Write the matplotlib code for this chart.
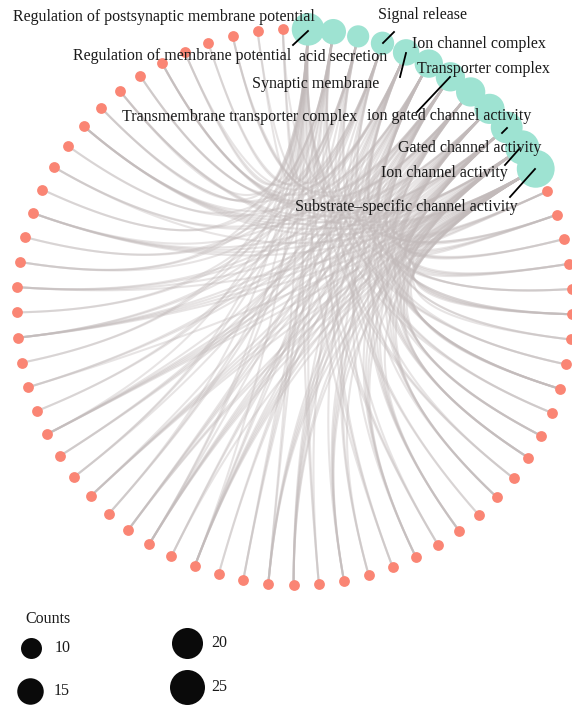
import numpy as np
import matplotlib
matplotlib.use("Agg")
import matplotlib.pyplot as plt
from matplotlib.collections import LineCollection

# ---- data -------------------------------------------------------------
categories = [
    "Regulation of membrane potential",
    "Regulation of postsynaptic membrane potential",
    "acid secretion",
    "Signal release",
    "Synaptic membrane",
    "Ion channel complex",
    "Transporter complex",
    "Transmembrane transporter complex",
    "ion gated channel activity",
    "Gated channel activity",
    "Ion channel activity",
    "Substrate\u2013specific channel activity",
]

# category memberships of each gene (indices into `categories`)
gene_links = [
    [0, 1, 10], [0, 3], [6, 7, 11], [2, 3], [0, 1, 4], [8, 9, 10, 11, 5],
    [6, 7, 4], [0, 10, 11, 9], [2, 3, 0], [5, 8, 9, 10, 11, 7], [4, 1],
    [6, 7, 11], [0, 1], [9, 10, 11, 5, 8], [3, 2], [0, 1, 4],
    [6, 7, 11, 9], [2, 3], [5, 8, 9, 10, 11, 4], [0, 1], [11, 6, 7],
    [3, 2], [0, 10, 11, 9, 8, 6], [7, 6, 5], [4, 0, 1], [8, 9, 10, 11, 5],
    [2, 3, 0], [5, 6, 7, 11, 10], [0, 1, 4, 9, 10, 11, 8], [11, 6, 7],
    [5, 8, 9, 10, 11, 4, 0], [6, 7], [3, 2, 4], [0, 1, 10, 11, 9, 8],
    [5, 6, 7, 8, 10, 11], [1, 0, 4], [8, 9, 10, 11, 5], [6, 7, 10],
    [0, 3, 2], [5, 8, 9, 10, 11], [4, 1, 0], [6, 7, 11, 9, 8], [2, 3],
    [5, 9, 10, 11, 8], [0, 1, 4], [6, 7, 5, 10, 11, 9], [9, 10, 11, 8, 5],
    [3, 0, 2], [5, 6, 7, 8, 9, 10, 11], [0, 1, 4], [11, 7, 6],
    [8, 9, 10, 11, 5, 4], [2, 0, 3], [10, 11, 9, 8], [6, 7, 5],
    [0, 1, 4, 9, 10, 11], [11, 10, 8, 6, 7],
]

legend_counts = [10, 15, 20, 25]

# ---- layout -----------------------------------------------------------
W, H = 572, 710
CX, CY, R = 294.5, 307.0, 278.0
n_cat = len(categories)
n_gene = len(gene_links)
n_all = n_cat + n_gene
step = 2 * np.pi / n_all
start = np.deg2rad(87.2)

# categories clockwise from the top, genes continue counter-clockwise
cat_ang = start - step * np.arange(n_cat)
gene_ang = start + step * (1 + np.arange(n_gene))

cat_xy = np.c_[CX + R * np.cos(cat_ang), CY - R * np.sin(cat_ang)]
gene_xy = np.c_[CX + R * np.cos(gene_ang), CY - R * np.sin(gene_ang)]

counts = np.zeros(n_cat, dtype=int)
for links in gene_links:
    for c in links:
        counts[c] += 1


def count_radius(c):
    """node radius (px) for a gene count"""
    return np.sqrt(13.07 * np.asarray(c, float) - 20.7)


def px_to_s(r):
    return (2 * np.asarray(r) * 72.0 / 100.0) ** 2


fig = plt.figure(figsize=(W / 100, H / 100), dpi=100)
ax = fig.add_axes([0, 0, 1, 1])
ax.set_xlim(0, W)
ax.set_ylim(H, 0)
ax.set_aspect("equal")
ax.axis("off")

# ---- edges: cubic curves bent towards the circle centre ---------------
t = np.linspace(0, 1, 80)[:, None]
centre = np.array([CX, CY])
pull = 0.72
segs = []
for g, links in enumerate(gene_links):
    p0 = gene_xy[g]
    for c in links:
        p3 = cat_xy[c]
        c1 = p0 + pull * (centre - p0)
        c2 = p3 + pull * (centre - p3)
        curve = ((1 - t) ** 3 * p0 + 3 * (1 - t) ** 2 * t * c1
                 + 3 * (1 - t) * t ** 2 * c2 + t ** 3 * p3)
        segs.append(curve)
ax.add_collection(LineCollection(segs, colors="#c2baba", linewidths=1.5,
                                 alpha=0.38, zorder=1, capstyle="round"))

# ---- nodes ------------------------------------------------------------
ax.scatter(gene_xy[:, 0], gene_xy[:, 1], s=px_to_s(5.4), color="#FA8574",
           linewidths=0, zorder=3)
ax.scatter(cat_xy[:, 0], cat_xy[:, 1], s=px_to_s(count_radius(counts)),
           color="#9EE3D2", linewidths=0, zorder=4)

# ---- labels with leader lines ----------------------------------------
font = dict(family="Liberation Serif", fontsize=11.5, color="#1a1a1a")
label_pos = {
    1: (163.5, 17), 0: (182.5, 56), 2: (343.5, 57), 3: (423, 15),
    4: (316, 84), 5: (479, 44), 6: (483, 69), 7: (239.5, 117),
    8: (449, 116), 9: (469.5, 148), 10: (444, 173), 11: (406, 207),
}
for i, (x, y) in label_pos.items():
    ax.text(x, y, categories[i], ha="center", va="center", zorder=6, **font)

leaders = [
    ((293, 45), (308, 31)),
    ((383, 43), (394, 32)),
    ((400, 77), (406, 53)),
    ((417, 112), (450, 77)),
    ((502, 133), (507, 128)),
    ((505, 165), (520, 148)),
    ((510, 197), (535, 169)),
]
for (x0, y0), (x1, y1) in leaders:
    ax.plot([x0, x1], [y0, y1], color="black", lw=1.3, zorder=5)

# ---- size legend -----------------------------------------------------
ax.text(48, 619, "Counts", ha="center", va="center", **font)
leg_xy = [(31, 648), (30, 691), (187, 643), (187, 687)]
for (x, y), c in zip(leg_xy, legend_counts):
    ax.scatter([x], [y], s=px_to_s(count_radius(c)), color="#0a0a0a",
               linewidths=0, zorder=4)
    ax.text(x + 24, y, str(c), ha="left", va="center", **font)

fig.savefig("out.png", dpi=100)
